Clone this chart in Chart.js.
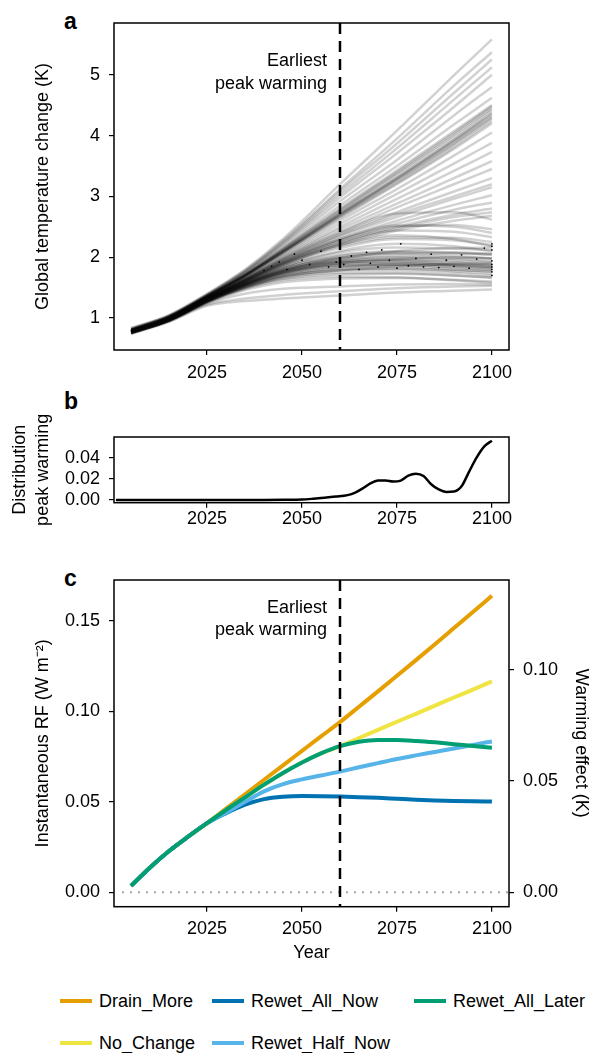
<!DOCTYPE html>
<html>
<head>
<meta charset="utf-8">
<script src="https://cdn.jsdelivr.net/npm/chart.js@4.4.1/dist/chart.umd.min.js"></script>
<style>
  body { margin: 0; background: #fff; font-family: "Liberation Sans", Arial, sans-serif; }
  #page { position: relative; width: 592px; height: 1053px; overflow: hidden; }
  canvas { position: absolute; left: 0; }
  .tag { position: absolute; font-weight: bold; font-size: 23px; line-height: 23px; }
  .item { position: absolute; font-size: 18px; line-height: 22px; display: flex; align-items: center; white-space: nowrap; }
  .item .sw { display: inline-block; width: 32px; height: 4px; margin-right: 7px; }
</style>
</head>
<body>
<div id="page">
  <div class="tag" style="left:64px; top:10px;">a</div>
  <canvas id="chartA" width="592" height="380" style="top:0px"></canvas>
  <div class="tag" style="left:64px; top:390px;">b</div>
  <canvas id="chartB" width="592" height="150" style="top:390px"></canvas>
  <div class="tag" style="left:64px; top:567px;">c</div>
  <canvas id="chartC" width="592" height="410" style="top:560px"></canvas>
  <div id="legend"></div>
</div>
<script>
// shared x axis
const xTicks = [2025, 2050, 2075, 2100];
const peakYear = 2060;

// panel a: ensemble of temperature runs, sampled at these years
const runYears = [2005, 2015, 2025, 2035, 2045, 2060, 2075, 2090, 2100];
const runsSteep = [
  [0.84, 1.05, 1.40, 1.80, 2.30, 3.20, 4.08, 4.99, 5.58],
  [0.83, 1.04, 1.39, 1.78, 2.27, 3.12, 3.95, 4.82, 5.37],
  [0.82, 1.04, 1.38, 1.77, 2.25, 3.08, 3.87, 4.70, 5.25],
  [0.82, 1.03, 1.38, 1.76, 2.23, 3.03, 3.79, 4.59, 5.12],
  [0.81, 1.03, 1.37, 1.75, 2.21, 2.98, 3.71, 4.47, 5.00],
  [0.81, 1.02, 1.37, 1.74, 2.18, 2.92, 3.60, 4.33, 4.80],
  [0.80, 1.02, 1.36, 1.72, 2.15, 2.85, 3.50, 4.18, 4.62],
  [0.80, 1.02, 1.36, 1.72, 2.14, 2.80, 3.43, 4.07, 4.50],
  [0.80, 1.02, 1.36, 1.71, 2.13, 2.78, 3.40, 4.04, 4.48],
  [0.81, 1.02, 1.36, 1.71, 2.12, 2.76, 3.38, 4.01, 4.45],
  [0.81, 1.02, 1.36, 1.71, 2.11, 2.74, 3.35, 3.97, 4.42],
  [0.80, 1.01, 1.35, 1.70, 2.10, 2.72, 3.31, 3.93, 4.38],
  [0.80, 1.01, 1.35, 1.70, 2.10, 2.71, 3.30, 3.92, 4.36],
  [0.80, 1.01, 1.35, 1.70, 2.09, 2.70, 3.29, 3.90, 4.33],
  [0.80, 1.01, 1.35, 1.70, 2.09, 2.69, 3.27, 3.87, 4.30],
  [0.79, 1.01, 1.35, 1.69, 2.08, 2.68, 3.25, 3.85, 4.28],
  [0.79, 1.01, 1.35, 1.69, 2.08, 2.66, 3.22, 3.81, 4.24],
  [0.80, 1.01, 1.35, 1.69, 2.07, 2.64, 3.20, 3.78, 4.20],
  [0.79, 1.00, 1.34, 1.68, 2.05, 2.60, 3.12, 3.67, 4.05],
  [0.79, 1.00, 1.34, 1.67, 2.03, 2.55, 3.04, 3.54, 3.88],
  [0.79, 1.00, 1.34, 1.66, 2.01, 2.50, 2.96, 3.42, 3.73],
  [0.78, 1.00, 1.33, 1.65, 1.99, 2.46, 2.88, 3.30, 3.58],
  [0.79, 1.00, 1.33, 1.65, 1.98, 2.42, 2.82, 3.20, 3.45]
];
const runsModerate = [
  [0.79, 1.00, 1.33, 1.64, 1.96, 2.38, 2.74, 3.08, 3.30],
  [0.79, 1.00, 1.33, 1.64, 1.95, 2.36, 2.70, 3.00, 3.20],
  [0.78, 0.99, 1.33, 1.63, 1.94, 2.34, 2.66, 2.96, 3.15],
  [0.78, 0.99, 1.32, 1.62, 1.92, 2.30, 2.60, 2.86, 3.02],
  [0.79, 0.99, 1.32, 1.62, 1.91, 2.27, 2.55, 2.78, 2.90],
  [0.78, 0.99, 1.32, 1.61, 1.90, 2.24, 2.50, 2.70, 2.80],
  [0.78, 0.99, 1.32, 1.61, 1.89, 2.22, 2.47, 2.66, 2.74],
  [0.78, 0.98, 1.31, 1.60, 1.88, 2.20, 2.44, 2.60, 2.68]
];
const runsPeaking = [
  [0.79, 1.00, 1.33, 1.64, 1.97, 2.40, 2.72, 2.74, 2.62],
  [0.78, 0.99, 1.32, 1.62, 1.93, 2.30, 2.52, 2.50, 2.40],
  [0.78, 0.99, 1.32, 1.62, 1.92, 2.28, 2.50, 2.53, 2.46],
  [0.78, 0.99, 1.32, 1.61, 1.90, 2.24, 2.44, 2.42, 2.33],
  [0.78, 0.99, 1.31, 1.60, 1.88, 2.20, 2.36, 2.30, 2.18],
  [0.78, 0.99, 1.31, 1.60, 1.87, 2.18, 2.33, 2.32, 2.25],
  [0.78, 0.99, 1.31, 1.59, 1.86, 2.15, 2.30, 2.28, 2.20],
  [0.77, 0.98, 1.30, 1.58, 1.84, 2.10, 2.22, 2.18, 2.10]
];
const runsFlat = [
  [0.78, 0.99, 1.31, 1.59, 1.84, 2.08, 2.16, 2.14, 2.12],
  [0.78, 0.99, 1.31, 1.58, 1.82, 2.02, 2.08, 2.07, 2.05],
  [0.78, 0.98, 1.30, 1.58, 1.82, 2.04, 2.10, 2.08, 2.06],
  [0.77, 0.98, 1.30, 1.57, 1.80, 1.99, 2.06, 2.06, 2.04],
  [0.77, 0.98, 1.30, 1.57, 1.80, 2.00, 2.05, 2.02, 1.98],
  [0.77, 0.98, 1.30, 1.56, 1.78, 1.95, 2.01, 2.00, 1.98],
  [0.77, 0.98, 1.30, 1.57, 1.79, 1.97, 2.00, 1.97, 1.93],
  [0.77, 0.98, 1.29, 1.56, 1.78, 1.94, 1.96, 1.92, 1.88],
  [0.77, 0.97, 1.29, 1.55, 1.77, 1.93, 1.97, 1.95, 1.92],
  [0.77, 0.97, 1.29, 1.55, 1.76, 1.92, 1.93, 1.88, 1.84],
  [0.76, 0.97, 1.29, 1.55, 1.76, 1.91, 1.94, 1.91, 1.88],
  [0.77, 0.97, 1.29, 1.55, 1.75, 1.90, 1.91, 1.86, 1.82],
  [0.76, 0.97, 1.28, 1.54, 1.74, 1.88, 1.90, 1.87, 1.84],
  [0.76, 0.97, 1.28, 1.54, 1.74, 1.87, 1.88, 1.83, 1.79],
  [0.76, 0.97, 1.28, 1.53, 1.73, 1.86, 1.87, 1.84, 1.81],
  [0.76, 0.97, 1.28, 1.53, 1.72, 1.84, 1.85, 1.80, 1.76],
  [0.76, 0.96, 1.28, 1.52, 1.70, 1.81, 1.82, 1.77, 1.73],
  [0.76, 0.96, 1.27, 1.51, 1.69, 1.79, 1.81, 1.79, 1.77],
  [0.76, 0.96, 1.27, 1.51, 1.68, 1.78, 1.78, 1.74, 1.70],
  [0.76, 0.96, 1.27, 1.50, 1.66, 1.74, 1.74, 1.70, 1.66],
  [0.75, 0.96, 1.26, 1.49, 1.64, 1.72, 1.73, 1.70, 1.67],
  [0.75, 0.96, 1.26, 1.48, 1.62, 1.68, 1.67, 1.62, 1.58],
  [0.75, 0.95, 1.25, 1.46, 1.59, 1.65, 1.66, 1.63, 1.60],
  [0.75, 0.95, 1.24, 1.40, 1.48, 1.52, 1.55, 1.56, 1.55],
  [0.75, 0.95, 1.22, 1.32, 1.38, 1.44, 1.49, 1.52, 1.53],
  [0.74, 0.94, 1.20, 1.28, 1.32, 1.37, 1.42, 1.45, 1.47],
  [0.76, 0.97, 1.28, 1.54, 1.74, 1.90, 1.97, 1.99, 1.98],
  [0.77, 0.97, 1.29, 1.56, 1.78, 1.98, 2.10, 2.15, 2.16],
  [0.76, 0.96, 1.27, 1.52, 1.70, 1.83, 1.88, 1.88, 1.86],
  [0.76, 0.96, 1.27, 1.50, 1.67, 1.78, 1.85, 1.89, 1.90]
];
// black dots (peak markers) in panel a
const dotYears = [2040, 2042, 2044, 2046, 2048, 2050, 2052, 2055, 2057, 2059, 2061, 2063, 2065, 2067, 2068, 2070, 2071, 2073, 2075, 2076,
                  2078, 2080, 2082, 2084, 2086, 2088, 2090, 2092, 2094, 2096, 2098, 2100, 2100, 2100, 2100, 2100, 2100, 2100, 2100, 2100];
const dotTemps = [1.78, 1.85, 1.92, 1.80, 2.05, 1.95, 1.88, 2.10, 1.84, 1.92, 1.88, 2.02, 1.80, 2.08, 1.90, 1.84, 2.12, 1.95, 1.82, 2.22,
                  1.86, 1.98, 1.84, 2.05, 1.83, 1.95, 1.85, 2.04, 1.82, 1.97, 2.15, 1.70, 1.76, 1.80, 1.84, 1.88, 2.12, 2.18, 2.22, 1.94];
const tempTicks = [1, 2, 3, 4, 5];

// panel b: distribution of peak warming year
const distYears = [2001, 2010, 2020, 2030, 2040, 2045, 2050, 2053, 2056, 2059, 2062, 2064, 2066, 2068, 2070, 2072, 2074, 2076, 2078, 2080,
                   2082, 2084, 2086, 2088, 2090, 2092, 2094, 2096, 2098, 2100];
const distValues = [0, 0, 0, 0, 0, 0.0001, 0.0004, 0.0012, 0.0022, 0.0032, 0.0046, 0.0070, 0.0110, 0.0158, 0.0185, 0.0186, 0.0176, 0.0185, 0.0232, 0.0250,
                    0.0228, 0.0150, 0.0100, 0.0077, 0.0080, 0.0130, 0.0270, 0.0405, 0.0510, 0.0565];
const distTicks = [0, 0.02, 0.04];

// panel c: radiative forcing by scenario
const rfYears = [2005, 2010, 2015, 2020, 2025, 2030, 2035, 2040, 2045, 2050, 2055, 2060, 2065, 2070, 2075, 2080, 2085, 2090, 2095, 2100];
const drainMore     = [0.0035, 0.0137, 0.0228, 0.0307, 0.0382, 0.0462, 0.0542, 0.0622, 0.0702, 0.0782, 0.0862, 0.0941, 0.1026, 0.1111, 0.1197, 0.1284, 0.1372, 0.1461, 0.1550, 0.1640];
const noChange      = [0.0035, 0.0137, 0.0228, 0.0307, 0.0382, 0.0455, 0.0525, 0.0595, 0.0660, 0.0718, 0.0768, 0.0808, 0.0853, 0.0898, 0.0943, 0.0987, 0.1032, 0.1077, 0.1121, 0.1166];
const rewetAllLater = [0.0035, 0.0137, 0.0228, 0.0307, 0.0382, 0.0455, 0.0525, 0.0595, 0.0660, 0.0718, 0.0768, 0.0808, 0.0832, 0.0842, 0.0842, 0.0837, 0.0829, 0.0819, 0.0809, 0.0799];
const rewetHalfNow  = [0.0035, 0.0137, 0.0228, 0.0307, 0.0382, 0.0440, 0.0500, 0.0558, 0.0598, 0.0624, 0.0646, 0.0667, 0.0691, 0.0714, 0.0737, 0.0757, 0.0776, 0.0795, 0.0815, 0.0834];
const rewetAllNow   = [0.0035, 0.0137, 0.0228, 0.0307, 0.0382, 0.0437, 0.0484, 0.0515, 0.0528, 0.0532, 0.0531, 0.0529, 0.0526, 0.0522, 0.0517, 0.0512, 0.0508, 0.0505, 0.0503, 0.0502];
const rfTicks = [0, 0.05, 0.10, 0.15];
const warmTicks = [0, 0.05, 0.10];

const legendNames  = ['Drain_More', 'Rewet_All_Now', 'Rewet_All_Later', 'No_Change', 'Rewet_Half_Now'];
const legendColors = ['#E69F00', '#0072B2', '#009E73', '#F0E442', '#56B4E9'];

Chart.defaults.font.family = '"Liberation Sans", Arial, sans-serif';
Chart.defaults.font.size = 18;
Chart.defaults.color = '#000';
const FONT = '18px "Liberation Sans", Arial, sans-serif';

// box around plot area, dashed "earliest peak" line, dotted zero line
const panelFrame = {
  id: 'panelFrame',
  beforeDatasetsDraw(chart, args, opts) {
    if (!opts.zero) return;
    const {ctx, chartArea: a, scales: {y}} = chart;
    const py = y.getPixelForValue(0);
    ctx.save();
    ctx.strokeStyle = '#aaaaaa';
    ctx.lineWidth = 2;
    ctx.setLineDash([2, 6]);
    ctx.beginPath(); ctx.moveTo(a.left + 8, py); ctx.lineTo(a.right, py); ctx.stroke();
    ctx.restore();
  },
  afterDatasetsDraw(chart, args, opts) {
    const {ctx, chartArea: a, scales: {x}} = chart;
    ctx.save();
    if (opts.peak) {
      const px = x.getPixelForValue(peakYear);
      ctx.strokeStyle = '#000';
      ctx.lineWidth = 2.5;
      ctx.setLineDash([11, 7]);
      ctx.beginPath(); ctx.moveTo(px, a.top); ctx.lineTo(px, a.bottom); ctx.stroke();
      ctx.setLineDash([]);
      ctx.fillStyle = '#000';
      ctx.font = FONT;
      ctx.textAlign = 'right';
      ctx.textBaseline = 'middle';
      ctx.fillText('Earliest', px - 13, a.top + opts.labelY);
      ctx.fillText('peak warming', px - 13, a.top + opts.labelY + 22.5);
    }
    ctx.lineWidth = 1.5;
    ctx.strokeStyle = '#000';
    ctx.strokeRect(a.left, a.top, a.right - a.left, a.bottom - a.top);
    ctx.restore();
  }
};

const tickGrid = { drawOnChartArea: false, drawTicks: true, tickLength: 5, color: '#000', lineWidth: 1.2 };

function xAxis(pad, h, title) {
  return {
    type: 'linear', min: 2000.5, max: 2104.5,
    afterBuildTicks: s => { s.ticks = xTicks.map(v => ({ value: v })); },
    afterFit: s => { s.height = h; },
    grid: tickGrid,
    border: { display: false },
    ticks: { padding: pad, autoSkip: false, maxRotation: 0, callback: v => String(v) },
    title: title ? { display: true, text: title, padding: { top: 0, bottom: 6 } } : { display: false }
  };
}

function yAxis(min, max, ticks, digits, title, titlePad, lineHeight) {
  return {
    type: 'linear', position: 'left', min: min, max: max,
    afterBuildTicks: s => { s.ticks = ticks.map(v => ({ value: v })); },
    afterFit: s => { s.width = 114; },
    grid: tickGrid,
    border: { display: false },
    ticks: { padding: 9, callback: v => v.toFixed(digits) },
    title: { display: true, text: title, padding: { top: titlePad, bottom: 0 }, font: { size: 18, lineHeight: lineHeight } }
  };
}

const baseOpts = {
  responsive: false,
  devicePixelRatio: 1,
  animation: false,
  events: [],
  plugins: { legend: { display: false }, tooltip: { enabled: false } },
  elements: { point: { radius: 0 } }
};

// ---------- panel a ----------
const allRuns = [].concat(runsSteep, runsModerate, runsPeaking, runsFlat);
const runSets = allRuns.map(run => ({
  data: runYears.map((yr, i) => ({ x: yr, y: run[i] })),
  borderColor: 'rgba(0,0,0,0.18)',
  borderWidth: 2.5,
  cubicInterpolationMode: 'monotone',
  pointRadius: 0
}));
runSets.push({
  type: 'scatter',
  data: dotYears.map((yr, i) => ({ x: yr, y: dotTemps[i] })),
  backgroundColor: '#000',
  borderWidth: 0,
  pointRadius: 0.9,
  showLine: false
});

new Chart(document.getElementById('chartA'), {
  type: 'line',
  data: { datasets: runSets },
  options: Object.assign({}, baseOpts, {
    layout: { padding: { top: 23, right: 83, left: 0, bottom: 0 } },
    scales: {
      x: xAxis(7, 30),
      y: yAxis(0.475, 5.85, tempTicks, 0, 'Global temperature change (K)', 32.5, 1.2)
    },
    plugins: Object.assign({}, baseOpts.plugins, { panelFrame: { peak: true, labelY: 38.5 } })
  }),
  plugins: [panelFrame]
});

// ---------- panel b ----------
new Chart(document.getElementById('chartB'), {
  type: 'line',
  data: {
    datasets: [{
      data: distYears.map((yr, i) => ({ x: yr, y: distValues[i] })),
      borderColor: '#000',
      borderWidth: 2.5,
      cubicInterpolationMode: 'monotone',
      pointRadius: 0
    }]
  },
  options: Object.assign({}, baseOpts, {
    layout: { padding: { top: 47, right: 83, left: 0, bottom: 0 } },
    scales: {
      x: xAxis(1, 37.3),
      y: yAxis(-0.0026, 0.06, distTicks, 2, ['Distribution', 'peak warming'], 8.5, 1.28)
    },
    plugins: Object.assign({}, baseOpts.plugins, { panelFrame: { peak: false } })
  }),
  plugins: [panelFrame]
});

// ---------- panel c ----------
const scenarios = [
  { label: 'Rewet_All_Later', values: rewetAllLater, color: '#009E73', order: 1 },
  { label: 'Rewet_Half_Now', values: rewetHalfNow, color: '#56B4E9', order: 2 },
  { label: 'Rewet_All_Now', values: rewetAllNow, color: '#0072B2', order: 3 },
  { label: 'No_Change', values: noChange, color: '#F0E442', order: 4 },
  { label: 'Drain_More', values: drainMore, color: '#E69F00', order: 5 }
];

new Chart(document.getElementById('chartC'), {
  type: 'line',
  data: {
    datasets: scenarios.map(s => ({
      label: s.label,
      data: rfYears.map((yr, i) => ({ x: yr, y: s.values[i] })),
      borderColor: s.color,
      borderWidth: 4,
      cubicInterpolationMode: 'monotone',
      pointRadius: 0,
      order: s.order,
      yAxisID: 'y'
    }))
  },
  options: Object.assign({}, baseOpts, {
    layout: { padding: { top: 20, right: 0, left: 0, bottom: 0 } },
    scales: {
      x: xAxis(7, 63.3, 'Year'),
      y: yAxis(-0.008, 0.1727, rfTicks, 2, 'Instantaneous RF (W m⁻²)', 32.5, 1.2),
      y2: {
        type: 'linear', position: 'right', min: -0.0065, max: 0.1404,
        afterBuildTicks: s => { s.ticks = warmTicks.map(v => ({ value: v })); },
        afterFit: s => { s.width = 83; },
        grid: tickGrid,
        border: { display: false },
        ticks: { padding: 9, callback: v => v.toFixed(2) },
        title: { display: true, text: 'Warming effect (K)', padding: { top: 0, bottom: 0 } }
      }
    },
    plugins: Object.assign({}, baseOpts.plugins, { panelFrame: { peak: true, zero: true, labelY: 28 } })
  }),
  plugins: [panelFrame]
});

// ---------- legend ----------
const legendPos = [[60, 1001], [212, 1001], [414, 1001], [60, 1043], [212, 1043]];
const legendEl = document.getElementById('legend');
legendNames.forEach((name, i) => {
  const d = document.createElement('div');
  d.className = 'item';
  d.style.left = legendPos[i][0] + 'px';
  d.style.top = (legendPos[i][1] - 11) + 'px';
  d.innerHTML = '<span class="sw" style="background:' + legendColors[i] + '"></span>' + name;
  legendEl.appendChild(d);
});
</script>
</body>
</html>
